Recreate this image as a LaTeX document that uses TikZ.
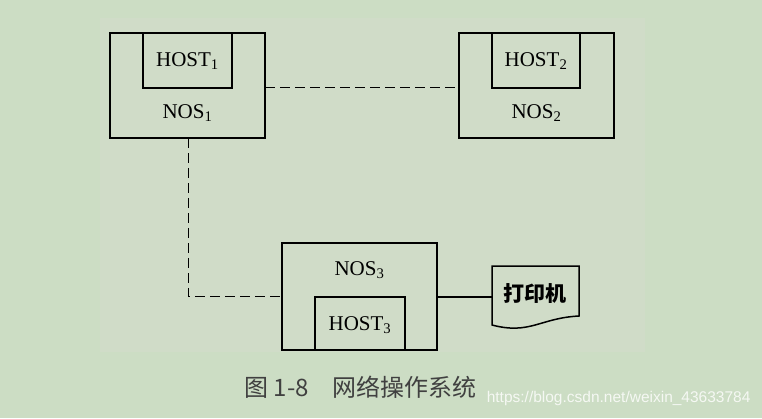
\documentclass[tikz,border=0pt]{standalone}
\usepackage{fontspec}
\setmainfont{Liberation Serif}
\newfontfamily\cjk{Noto Sans CJK SC}
\newfontfamily\wmfont{Liberation Sans}
\begin{document}
\begin{tikzpicture}[x=1pt,y=-1pt,
  box/.style={draw,line width=1.5pt,fill=none},
  conn/.style={line width=1pt,dash pattern=on 10pt off 5pt},
  lbl/.style={font=\fontsize{21}{24}\selectfont}]
\definecolor{bg}{HTML}{CCDDC4}
\definecolor{bg2}{HTML}{D0DCC8}
\fill[bg] (0,0) rectangle (762,418);
\useasboundingbox (0,0) rectangle (762,418);
\fill[bg2] (100,18) rectangle (645,352);
% boxes
\draw[box] (110,33) rectangle (265,138);
\draw[box] (143,33) rectangle (232,88);
\node[lbl] (h1) at (187.5,61) {HOST\textsubscript{1}};
\node[lbl] (n1) at (187.5,113) {NOS\textsubscript{1}};
\coordinate (n1r) at (265,87);
\coordinate (n1b) at (188,138);
\draw[box] (459,33) rectangle (614,138);
\draw[box] (492,33) rectangle (580,88);
\node[lbl] (h2) at (536,61) {HOST\textsubscript{2}};
\node[lbl] (n2) at (536.5,113) {NOS\textsubscript{2}};
\coordinate (n2l) at (459,87);
\draw[box] (282,243) rectangle (437,350);
\draw[box] (315,297) rectangle (405,350);
\node[lbl] (n3) at (359.5,270) {NOS\textsubscript{3}};
\node[lbl] (h3) at (360,325) {HOST\textsubscript{3}};
\coordinate (n3l) at (282,296);
\coordinate (n3r) at (437,297);
% printer
\draw[box] (492,316) -- (492,266) -- (579,266) -- (579,316)
  .. controls (540,318) and (530,335) .. (492,325) -- cycle;
\node[font=\cjk\bfseries\fontsize{21}{24}\selectfont] (pr) at (535,294) {打印机};
\coordinate (prl) at (492,297);
% connectors
\draw[conn] (n1r) -- (n2l);
\draw[conn] (n1b) |- (n3l);
\draw[line width=1.5pt] (n3r) -- (prl);
% caption
\node[font=\cjk\fontsize{24}{27}\selectfont,text=black!75,anchor=west] (cap) at (241,387) {图 1-8\quad 网络操作系统};
\node[font=\wmfont\fontsize{15.5}{18}\selectfont,text=white!80!bg,anchor=east] (wm) at (754,398) {https://blog.csdn.net/weixin\_43633784};
\end{tikzpicture}
\end{document}
